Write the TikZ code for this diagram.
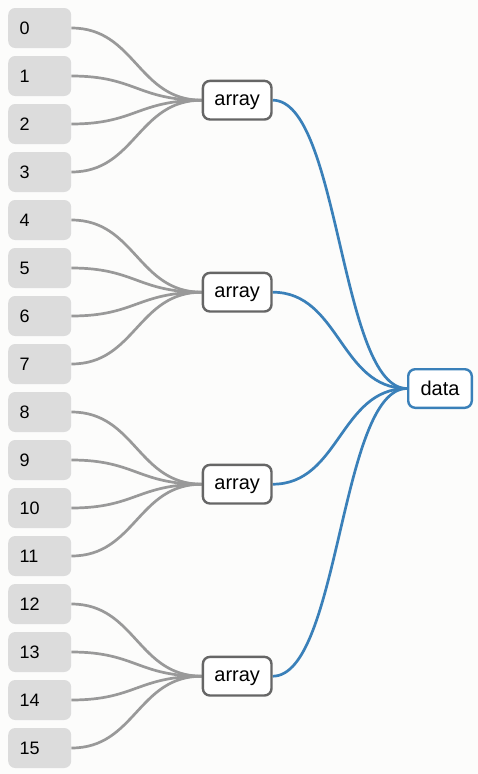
\documentclass[tikz,border=0pt]{standalone}
\usepackage{fontspec}
\setmainfont{Liberation Sans}
\usetikzlibrary{backgrounds}
\definecolor{bgc}{HTML}{FCFCFB}
\definecolor{leaffill}{HTML}{DCDCDC}
\definecolor{greyline}{HTML}{999999}
\definecolor{arrborder}{HTML}{666666}
\definecolor{blueline}{HTML}{3A80B9}
\tikzset{
  leaf/.style={anchor=west, fill=leaffill, rounded corners=7pt, minimum height=40pt,
    text width=40pt, align=left, inner xsep=11.5pt, inner ysep=0pt,
    font=\fontsize{18}{20}\selectfont},
  arr/.style={draw=arrborder, line width=2.4pt, fill=white, rounded corners=7pt,
    minimum width=68.6pt, minimum height=38.6pt, inner sep=0pt, text depth=0pt,
    font=\fontsize{20}{22}\selectfont},
  dat/.style={draw=blueline, line width=2.4pt, fill=white, rounded corners=7pt,
    minimum width=63.6pt, minimum height=38.6pt, inner sep=0pt, text depth=0pt,
    font=\fontsize{20}{22}\selectfont},
  gedge/.style={draw=greyline, line width=2.7pt},
  bedge/.style={draw=blueline, line width=2.7pt},
}
\begin{document}
\begin{tikzpicture}[x=1pt,y=-1pt]
\useasboundingbox (0,0) rectangle (478,774);
% leaves
\foreach \i in {0,...,15} {
  \node[leaf] (l\i) at (8, {28+48*\i}) {\i};
}
\foreach \k in {0,...,3} {
  \node[arr] (a\k) at (237.2, {100.2+192*\k}) {array};
}
\node[dat] (d) at (440, 388.5) {data};
\begin{scope}[on background layer]
  \fill[bgc] (0,0) rectangle (478,774);
  \foreach \i in {0,...,15} {
    \pgfmathtruncatemacro{\g}{int(\i/4)}
    \draw[gedge] (l\i.east) .. controls +(64,0) and +(-64,0) .. (a\g.west);
  }
  \foreach \k in {0,...,3} {
    \draw[bedge] (a\k.east) .. controls +(67,0) and +(-67,0) .. (d.west);
  }
\end{scope}
\end{tikzpicture}
\end{document}
